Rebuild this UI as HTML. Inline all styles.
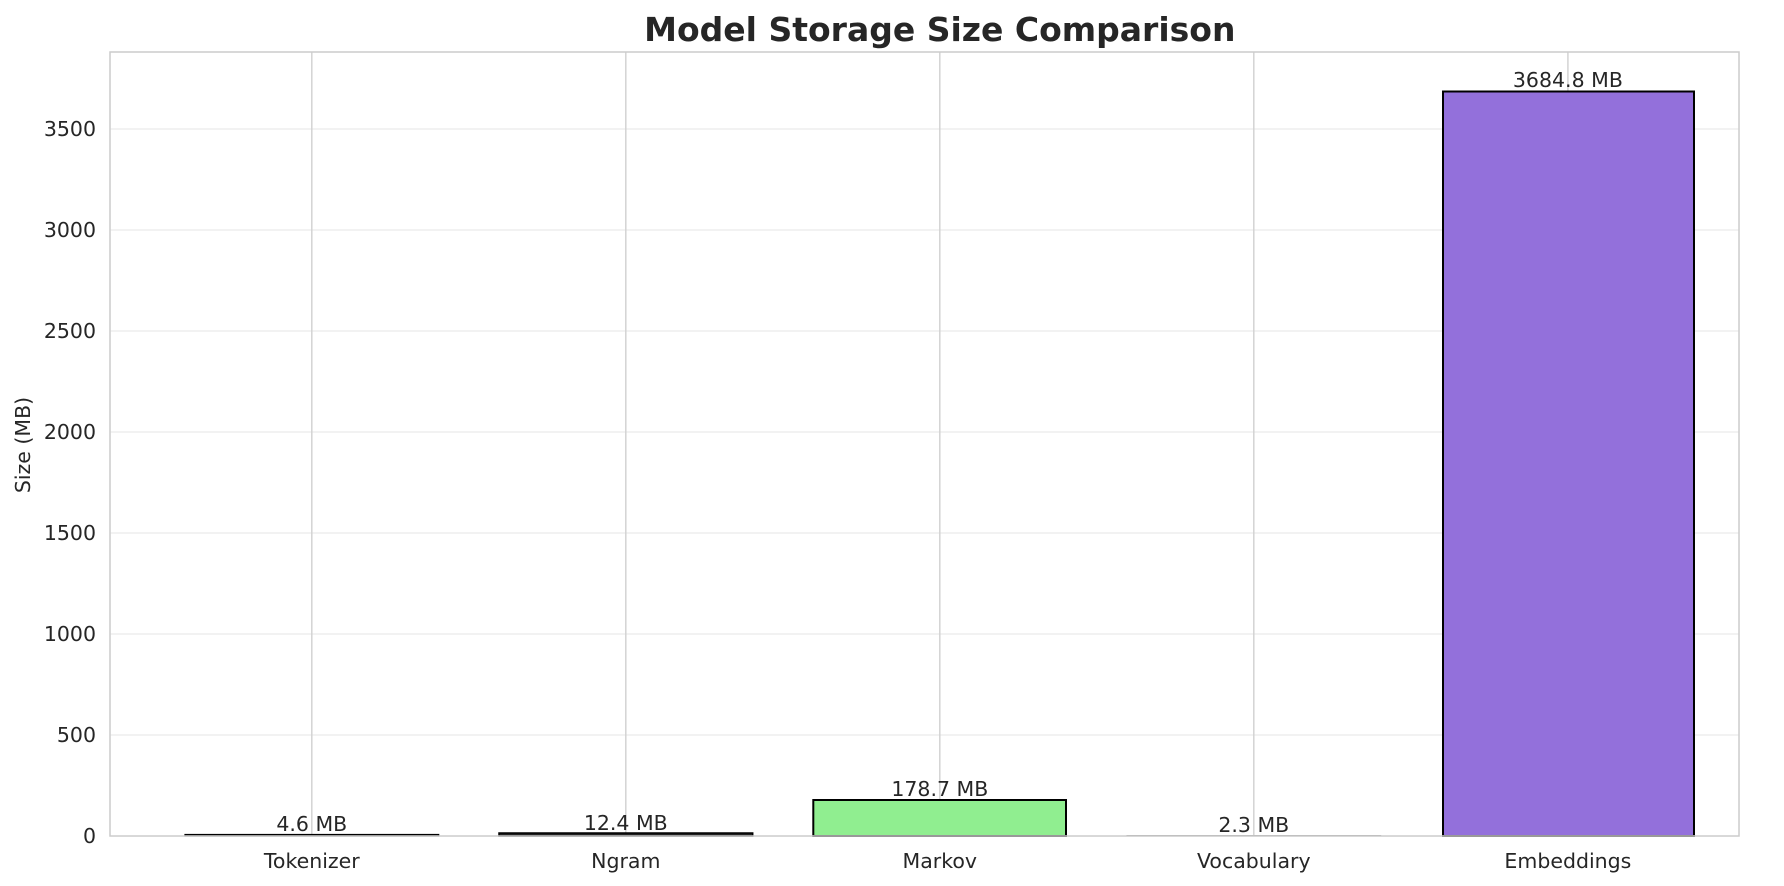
<!DOCTYPE html>
<html><head><meta charset="utf-8"><style>
html,body{margin:0;padding:0;background:#fff;}
svg{display:block;}
text{font-family:"DejaVu Sans","Liberation Sans",sans-serif;fill:#262626;}
</style></head><body>
<svg width="1784" height="886" viewBox="0 0 1784 886" xmlns="http://www.w3.org/2000/svg">
<rect width="1784" height="886" fill="#fff"/>
<g stroke="#ebebeb" stroke-width="1.2">
<line x1="110" x2="1739" y1="735" y2="735"/>
<line x1="110" x2="1739" y1="634" y2="634"/>
<line x1="110" x2="1739" y1="533" y2="533"/>
<line x1="110" x2="1739" y1="432" y2="432"/>
<line x1="110" x2="1739" y1="331" y2="331"/>
<line x1="110" x2="1739" y1="230" y2="230"/>
<line x1="110" x2="1739" y1="129" y2="129"/>
</g>
<g stroke="#d3d3d3" stroke-width="1.5">
<line x1="311.8" x2="311.8" y1="52" y2="836"/>
<line x1="625.8" x2="625.8" y1="52" y2="836"/>
<line x1="939.8" x2="939.8" y1="52" y2="836"/>
<line x1="1253.8" x2="1253.8" y1="52" y2="836"/>
<line x1="1567.9" x2="1567.9" y1="52" y2="836"/>
</g>
<rect x="185" y="834.5" width="253.7" height="1.5" fill="#333" stroke="#000" stroke-width="1.2"/>
<rect x="499" y="833" width="253.7" height="3" fill="#222" stroke="#000" stroke-width="1.5"/>
<rect x="813.3" y="800" width="252.7" height="36" fill="#90ee90" stroke="#000" stroke-width="2"/>
<rect x="1127" y="835.5" width="253.7" height="0.5" fill="#ccc" stroke="#999" stroke-width="1"/>
<rect x="1443" y="91.5" width="251" height="744.5" fill="#9370db" stroke="#000" stroke-width="2"/>
<rect x="110" y="52" width="1629" height="784" fill="none" stroke="#cccccc" stroke-width="1.5"/>
<g font-size="20.5" text-anchor="middle">
<text x="311.8" y="831">4.6 MB</text>
<text x="625.8" y="830">12.4 MB</text>
<text x="939.8" y="796">178.7 MB</text>
<text x="1253.8" y="832">2.3 MB</text>
<text x="1567.9" y="87">3684.8 MB</text>
</g>
<g font-size="20.5" text-anchor="end">
<text x="96" y="843">0</text>
<text x="96" y="742">500</text>
<text x="96" y="641">1000</text>
<text x="96" y="540">1500</text>
<text x="96" y="439">2000</text>
<text x="96" y="338">2500</text>
<text x="96" y="237">3000</text>
<text x="96" y="136">3500</text>
</g>
<g font-size="20.5" text-anchor="middle">
<text x="311.8" y="868">Tokenizer</text>
<text x="625.8" y="868">Ngram</text>
<text x="939.8" y="868">Markov</text>
<text x="1253.8" y="868">Vocabulary</text>
<text x="1567.9" y="868">Embeddings</text>
</g>
<text transform="translate(30,445) rotate(-90)" font-size="20.5" text-anchor="middle">Size (MB)</text>
<text x="939.8" y="41" font-size="33" font-weight="bold" text-anchor="middle">Model Storage Size Comparison</text>
</svg>
</body></html>
